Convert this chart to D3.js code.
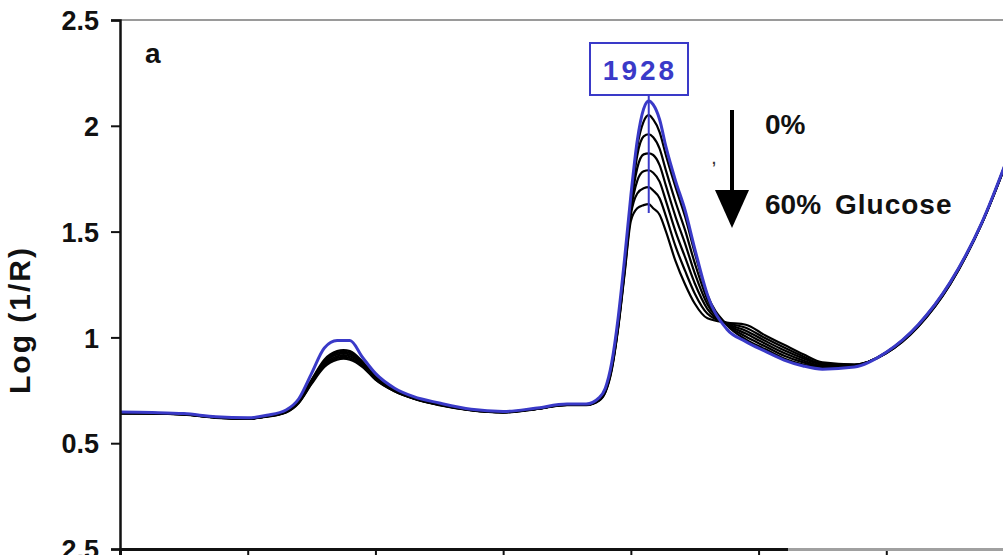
<!DOCTYPE html>
<html>
<head>
<meta charset="utf-8">
<script src="https://cdn.jsdelivr.net/npm/d3@7"></script>
<style>
  body { margin: 0; background: #fff; }
  svg { display: block; }
  text { font-family: "Liberation Sans", Arial, sans-serif; font-weight: bold; }
</style>
</head>
<body>
<svg id="chart" width="1003" height="555"></svg>
<script>
// wavelength grid (nm)
const wavelengths = [1100,1150,1200,1250,1300, 1330,1360,1380,1400,1420, 1440,1450,1460,1480,1500,
  1530,1560,1600,1650,1700, 1750,1800,1830,1850,1860, 1870,1880,1890,1900,1910,
  1920,1928,1935,1945,1955, 1970,1985,2000,2020,2050, 2080,2110,2140,2170,2200,
  2250,2300,2350,2400,2450, 2500];

// 0% glucose (blue)
const spec0 = [0.647,0.645,0.640,0.625,0.620, 0.632,0.657,0.710,0.830,0.950, 0.985,0.985,0.985,0.905,0.830,
  0.760,0.720,0.690,0.660,0.650, 0.665,0.685,0.685,0.714,0.760, 0.880,1.090,1.366,1.670,1.930,
  2.080,2.117,2.100,2.030,1.900, 1.740,1.600,1.420,1.200,1.040, 0.980,0.935,0.893,0.865,0.850,
  0.860,0.930,1.060,1.260,1.545, 1.930];

// glucose spectra (black)
const spec10 = [0.645,0.643,0.638,0.623,0.618, 0.629,0.651,0.700,0.800,0.895, 0.935,0.940,0.935,0.885,0.815,
  0.752,0.715,0.686,0.658,0.648, 0.663,0.683,0.683,0.710,0.752, 0.870,1.075,1.345,1.645,1.900,
  2.020,2.050,2.030,1.970,1.860, 1.710,1.570,1.400,1.200,1.060, 0.990,0.945,0.900,0.872,0.855,
  0.865,0.930,1.060,1.260,1.545, 1.930];
const spec20 = [0.644,0.642,0.637,0.622,0.617, 0.628,0.650,0.698,0.796,0.888, 0.927,0.932,0.927,0.880,0.812,
  0.751,0.714,0.685,0.657,0.647, 0.662,0.682,0.682,0.708,0.750, 0.865,1.065,1.335,1.630,1.860,
  1.950,1.960,1.946,1.892,1.788, 1.640,1.506,1.352,1.178,1.062, 1.004,0.958,0.913,0.882,0.860,
  0.866,0.929,1.058,1.258,1.544, 1.928];
const spec30 = [0.643,0.642,0.637,0.622,0.617, 0.627,0.649,0.696,0.792,0.881, 0.919,0.924,0.919,0.875,0.809,
  0.749,0.713,0.684,0.657,0.647, 0.662,0.682,0.682,0.706,0.747, 0.860,1.060,1.325,1.615,1.800,
  1.865,1.870,1.862,1.814,1.716, 1.570,1.442,1.304,1.156,1.064, 1.018,0.971,0.926,0.891,0.865,
  0.868,0.928,1.056,1.256,1.543, 1.926];
const spec40 = [0.642,0.641,0.636,0.621,0.616, 0.627,0.647,0.694,0.788,0.874, 0.911,0.916,0.911,0.870,0.806,
  0.748,0.712,0.682,0.656,0.646, 0.661,0.681,0.681,0.704,0.745, 0.855,1.050,1.315,1.600,1.740,
  1.785,1.790,1.778,1.736,1.644, 1.500,1.378,1.256,1.134,1.066, 1.032,0.984,0.939,0.901,0.871,
  0.869,0.927,1.054,1.254,1.542, 1.924];
const spec50 = [0.641,0.641,0.636,0.621,0.616, 0.626,0.646,0.692,0.784,0.867, 0.903,0.908,0.903,0.865,0.803,
  0.746,0.711,0.681,0.656,0.646, 0.661,0.681,0.681,0.702,0.742, 0.850,1.045,1.305,1.580,1.680,
  1.705,1.710,1.694,1.658,1.572, 1.430,1.314,1.208,1.112,1.068, 1.046,0.997,0.952,0.910,0.876,
  0.871,0.926,1.052,1.252,1.541, 1.922];
const spec60 = [0.640,0.640,0.635,0.620,0.615, 0.625,0.645,0.690,0.780,0.860, 0.895,0.900,0.895,0.860,0.800,
  0.745,0.710,0.680,0.655,0.645, 0.660,0.680,0.680,0.700,0.740, 0.845,1.040,1.295,1.550,1.610,
  1.625,1.630,1.610,1.580,1.500, 1.360,1.250,1.160,1.090,1.070, 1.060,1.010,0.965,0.920,0.882,
  0.872,0.925,1.050,1.250,1.540, 1.920];
const blackSpectra = [spec60, spec50, spec40, spec30, spec20, spec10];

const xTicks = [1100,1300,1500,1700,1900,2100,2300,2500];
const yTicks = [0,0.5,1,1.5,2,2.5];
const yTickLabels = ["2.5","0.5","1","1.5","2","2.5"];
const peakLabel = "1928";

const svg = d3.select("#chart");
const x = d3.scaleLinear().domain([1100,2500]).range([120,1014]);
const y = d3.scaleLinear().domain([0,2.5]).range([549,20]);

// top frame line
svg.append("line").attr("x1",120).attr("x2",1003).attr("y1",y(2.5)).attr("y2",y(2.5))
  .attr("stroke","#9a9a9a").attr("stroke-width",2);

const line = d3.line().x((d,i) => x(wavelengths[i])).y(d => y(d)).curve(d3.curveMonotoneX);

svg.append("g").selectAll("path").data(blackSpectra).enter().append("path")
  .attr("d", line).attr("fill","none").attr("stroke","#000").attr("stroke-width",2.2);
svg.append("path").attr("d", line(spec0)).attr("fill","none")
  .attr("stroke","#3a3ac8").attr("stroke-width",3);

// axes
const yAxis = svg.append("g").attr("transform","translate(120,0)")
  .call(d3.axisLeft(y).tickValues(yTicks).tickSize(9).tickPadding(12)
    .tickFormat((d,i) => yTickLabels[i]));
yAxis.select(".domain").attr("stroke","#111").attr("stroke-width",2.5);
yAxis.selectAll(".tick line").attr("stroke","#111").attr("stroke-width",2);
yAxis.selectAll("text").attr("font-size",27).attr("fill","#111").attr("dy","0.36em");

const xAxis = svg.append("g").attr("transform",`translate(0,${y(0)})`)
  .call(d3.axisBottom(x).tickValues(xTicks).tickSize(7).tickFormat(""));
xAxis.select(".domain").attr("stroke","#111").attr("stroke-width",3);
xAxis.selectAll(".tick line").attr("stroke","#111").attr("stroke-width",2);
svg.append("line").attr("x1",788).attr("x2",1003).attr("y1",y(0)+0.5).attr("y2",y(0)+0.5)
  .attr("stroke","#a0a0a0").attr("stroke-width",3);

svg.append("text").attr("transform","translate(30,320) rotate(-90)")
  .attr("text-anchor","middle").attr("font-size",30).attr("letter-spacing",2)
  .attr("fill","#111").text("Log (1/R)");

svg.append("text").attr("x",145).attr("y",63).attr("font-size",28).attr("fill","#111").text("a");

// peak marker
const px = x(1928);
svg.append("line").attr("x1",px).attr("x2",px).attr("y1",95).attr("y2",213)
  .attr("stroke","#3a3ac8").attr("stroke-width",2);
svg.append("rect").attr("x",590).attr("y",43).attr("width",98).attr("height",52)
  .attr("fill","#fff").attr("stroke","#3a3ac8").attr("stroke-width",2);
svg.append("text").attr("x",640).attr("y",80).attr("text-anchor","middle")
  .attr("font-size",28).attr("fill","#3a3ac8").attr("letter-spacing",3).text(peakLabel);

// arrow + legend text
svg.append("line").attr("x1",732).attr("x2",732).attr("y1",110).attr("y2",195)
  .attr("stroke","#000").attr("stroke-width",4);
svg.append("path").attr("d","M715,190 L749,190 L732,228 Z").attr("fill","#000");
svg.append("text").attr("x",712).attr("y",164).attr("font-size",14).attr("fill","#333").text(",");
svg.append("text").attr("x",765).attr("y",134).attr("font-size",28).attr("fill","#111").text("0%");
svg.append("text").attr("x",765).attr("y",214).attr("font-size",28).attr("fill","#111").text("60%");
svg.append("text").attr("x",835).attr("y",214).attr("font-size",28).attr("letter-spacing",1)
  .attr("fill","#111").text("Glucose");
</script>
</body>
</html>
